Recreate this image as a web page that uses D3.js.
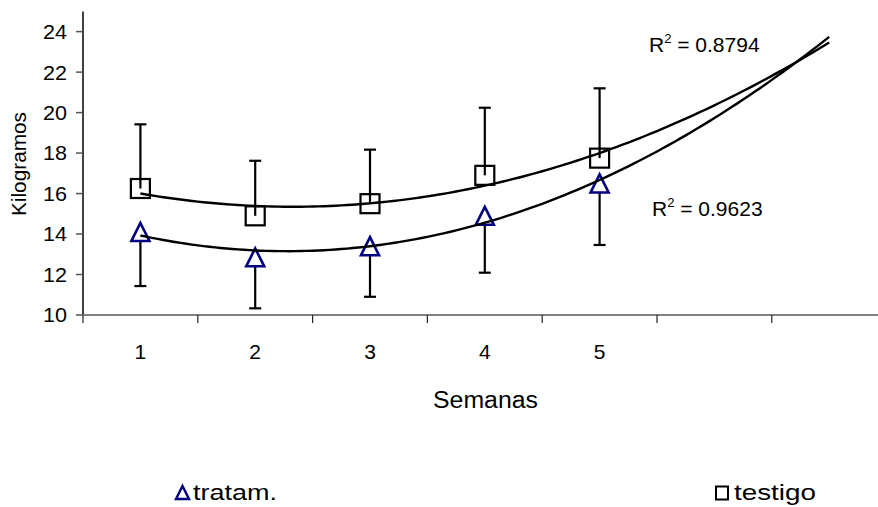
<!DOCTYPE html>
<html>
<head>
<meta charset="utf-8">
<script src="https://cdn.jsdelivr.net/npm/d3@7"></script>
<style>
  body { margin: 0; background: #fff; }
  svg { display: block; font-family: "Liberation Sans", Arial, sans-serif; }
</style>
</head>
<body>
<svg id="chart"></svg>
<script>
// semanas (7 categorias, 6 y 7 solo para la proyeccion de la tendencia)
const weeks = [1, 2, 3, 4, 5, 6, 7];
const weekLabels = ["1", "2", "3", "4", "5", "", ""];
const measured = [1, 2, 3, 4, 5];

// testigo: media y barra de error (hacia arriba)
const testigo = [16.25, 14.9, 15.5, 16.9, 17.75];
const testigoErr = [3.17, 2.72, 2.67, 3.34, 3.45];

// tratamiento: media y barra de error (hacia abajo)
const tratam = [14.1, 12.85, 13.4, 14.9, 16.5];
const tratamErr = [2.67, 2.52, 2.5, 2.81, 3.04];

const yTicks = [10, 12, 14, 16, 18, 20, 22, 24];
const r2Testigo = "0.8794";
const r2Tratam = "0.9623";

const width = 878, height = 507;
const margin = { left: 83, top: 11, bottom: 315 };
const navy = "#000080";

const svg = d3.select("#chart").attr("width", width).attr("height", height);

const x = d3.scaleBand().domain(weeks).range([margin.left, 886.6]);
const y = d3.scaleLinear().domain([10, 25]).range([margin.bottom, 11.4]);

// polinomio de orden 2 por minimos cuadrados (linea de tendencia)
const polyFit = (xs, ys) => {
  const mx = d3.mean(xs);
  const t = xs.map(v => v - mx);
  const st2 = d3.mean(t.map(v => v * v));
  const q = t.map(v => v * v - st2);
  const my = d3.mean(ys);
  const b = d3.sum(t.map((v, i) => v * ys[i])) / d3.sum(t.map(v => v * v));
  const c = d3.sum(q.map((v, i) => v * ys[i])) / d3.sum(q.map(v => v * v));
  return xv => my + b * (xv - mx) + c * ((xv - mx) * (xv - mx) - st2);
};

const px = w => x(w) + x.bandwidth() / 2;
// posicion continua entre centros de categorias
const pxc = w => x(1) + x.bandwidth() / 2 + (w - 1) * x.step();

// triangulo con ancho w y alto h centrado en el punto
const triPath = (w, h) => `M0,${-h / 2}L${w / 2},${h / 2}L${-w / 2},${h / 2}Z`;

// eje Y
svg.append("line")
  .attr("x1", margin.left).attr("x2", margin.left)
  .attr("y1", y(25)).attr("y2", y(10))
  .attr("stroke", "#000").attr("stroke-width", 1.5);

const yt = svg.append("g").selectAll("g").data(yTicks).enter().append("g");
yt.append("line")
  .attr("x1", margin.left - 7).attr("x2", margin.left)
  .attr("y1", d => y(d)).attr("y2", d => y(d))
  .attr("stroke", "#555").attr("stroke-width", 1.5);
yt.append("text")
  .attr("x", 67).attr("y", d => y(d)).attr("dy", "0.36em")
  .attr("text-anchor", "end")
  .attr("font-size", 20.5)
  .attr("textLength", 24).attr("lengthAdjust", "spacingAndGlyphs")
  .text(d => d);

// eje X
svg.append("line")
  .attr("x1", margin.left).attr("x2", width)
  .attr("y1", y(10)).attr("y2", y(10))
  .attr("stroke", "#808080").attr("stroke-width", 2);

const bounds = weeks.map(w => x(w)).concat([x(7) + x.bandwidth()]);
svg.append("g").selectAll("line").data(bounds).enter().append("line")
  .attr("x1", d => d).attr("x2", d => d)
  .attr("y1", y(10)).attr("y2", y(10) + 8)
  .attr("stroke", "#222").attr("stroke-width", 1.2);

svg.append("g").selectAll("text").data(weeks).enter().append("text")
  .attr("x", d => px(d)).attr("y", 359)
  .attr("text-anchor", "middle")
  .attr("font-size", 21)
  .text((d, i) => weekLabels[i]);

// titulos de ejes
svg.append("text")
  .attr("x", 433).attr("y", 408)
  .attr("font-size", 23)
  .attr("textLength", 105).attr("lengthAdjust", "spacingAndGlyphs")
  .text("Semanas");

svg.append("text")
  .attr("transform", "translate(26,164) rotate(-90)")
  .attr("text-anchor", "middle")
  .attr("font-size", 20)
  .attr("textLength", 104).attr("lengthAdjust", "spacingAndGlyphs")
  .text("Kilogramos");

// barras de error del tratamiento (debajo de los marcadores)
const errG = svg.append("g").attr("stroke", "#000").attr("stroke-width", 2.2);
measured.forEach((w, i) => {
  const yb = y(tratam[i] - tratamErr[i]);
  errG.append("line").attr("x1", px(w)).attr("x2", px(w))
    .attr("y1", y(tratam[i])).attr("y2", yb);
  errG.append("line").attr("x1", px(w) - 6).attr("x2", px(w) + 6)
    .attr("y1", yb).attr("y2", yb);
});

// marcadores
svg.append("g").selectAll("path").data(measured).enter().append("path")
  .attr("d", triPath(18, 18))
  .attr("transform", (d, i) => `translate(${px(d)},${y(tratam[i])})`)
  .attr("fill", "#fff").attr("stroke", navy).attr("stroke-width", 2.6)
  .attr("stroke-linejoin", "miter");

svg.append("g").selectAll("rect").data(measured).enter().append("rect")
  .attr("x", d => px(d) - 9.5).attr("y", (d, i) => y(testigo[i]) - 9.5)
  .attr("width", 19).attr("height", 19)
  .attr("fill", "#fff").attr("stroke", "#000").attr("stroke-width", 2.2);

// barras de error del testigo (encima)
const errT = svg.append("g").attr("stroke", "#000").attr("stroke-width", 2.2);
measured.forEach((w, i) => {
  const yt2 = y(testigo[i] + testigoErr[i]);
  errT.append("line").attr("x1", px(w)).attr("x2", px(w))
    .attr("y1", y(testigo[i])).attr("y2", yt2);
  errT.append("line").attr("x1", px(w) - 6).attr("x2", px(w) + 6)
    .attr("y1", yt2).attr("y2", yt2);
});

// lineas de tendencia polinomicas, proyectadas 2 periodos
const samples = d3.range(1, 7.0001, 0.05);
const line = d3.line().x(d => pxc(d[0])).y(d => y(d[1]));
[testigo, tratam].forEach(series => {
  const f = polyFit(measured, series);
  svg.append("path")
    .datum(samples.map(s => [s, f(s)]))
    .attr("d", line)
    .attr("fill", "none").attr("stroke", "#000").attr("stroke-width", 2.4);
});

// R cuadrado
const r2Label = (xp, yp, val) => {
  const t = svg.append("text").attr("x", xp).attr("y", yp).attr("font-size", 21);
  t.append("tspan").text("R");
  t.append("tspan").attr("font-size", 13).attr("dy", -9).text("2");
  t.append("tspan").attr("dy", 9).text(" = " + val);
};
r2Label(649, 52, r2Testigo);
r2Label(652, 216, r2Tratam);

// leyenda
svg.append("path")
  .attr("d", triPath(13, 13))
  .attr("transform", "translate(182.5,492.5)")
  .attr("fill", "#fff").attr("stroke", navy).attr("stroke-width", 2.4);
svg.append("text").attr("x", 193).attr("y", 500)
  .attr("font-size", 22)
  .attr("textLength", 84).attr("lengthAdjust", "spacingAndGlyphs")
  .text("tratam.");

svg.append("rect")
  .attr("x", 716).attr("y", 486.5).attr("width", 12).attr("height", 13)
  .attr("fill", "#fff").attr("stroke", "#000").attr("stroke-width", 2);
svg.append("text").attr("x", 734).attr("y", 500)
  .attr("font-size", 22)
  .attr("textLength", 82).attr("lengthAdjust", "spacingAndGlyphs")
  .text("testigo");
</script>
</body>
</html>
